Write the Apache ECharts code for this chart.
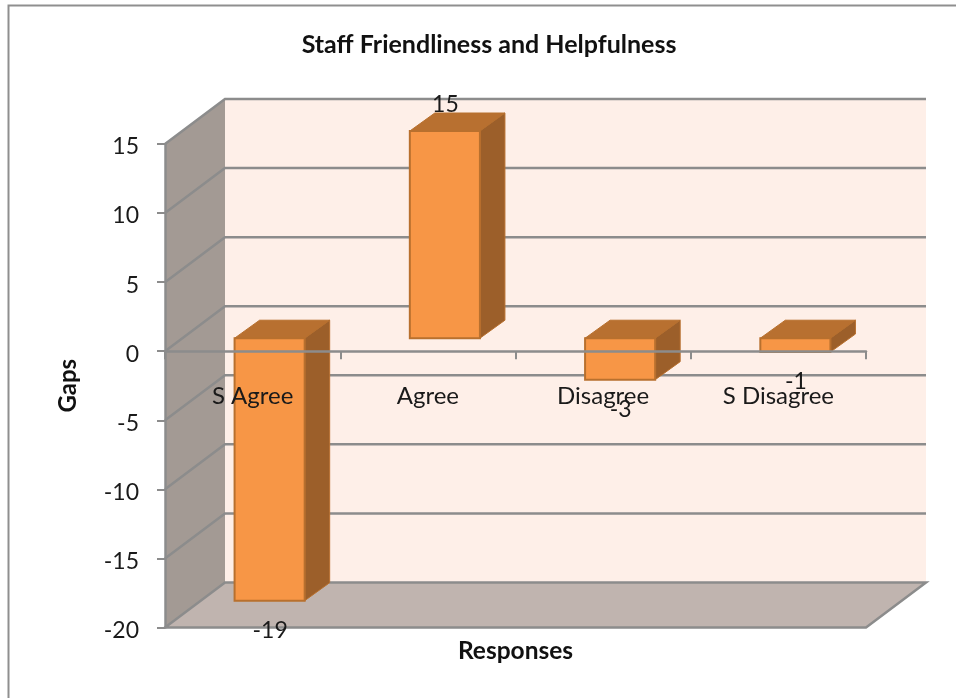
<!DOCTYPE html>
<html><head><meta charset="utf-8">
<style>html,body{margin:0;padding:0;background:#fff}#c{width:956px;height:698px}</style>
<script src="https://cdn.jsdelivr.net/npm/echarts@6/dist/echarts.min.js"></script>
</head><body><div id="c"></div>
<script>
const categories = ['S Agree', 'Agree', 'Disagree', 'S Disagree'];
const gaps = [-19, 15, -3, -1];
const yTicks = [-20, -15, -10, -5, 0, 5, 10, 15];
const titleText = 'Staff Friendliness and Helpfulness';
const yName = 'Gaps', xName = 'Responses';

// projection of the oblique 3D box
const WALL_DX = 60, WALL_DY = -45;
const BAR_OFF_DX = 17, BAR_OFF_DY = -13;
const BAR_DX = 25, BAR_DY = -18;
const BAR_WIDTH_RATIO = 0.4;
const LINE = '#8c8c8c';
const FONT = 'Lato, "Open Sans", sans-serif';

const chart = echarts.init(document.getElementById('c'), null, {renderer: 'canvas'});

function renderWalls(params, api) {
  const c = params.coordSys;
  const l = c.x, r = c.x + c.width, t = c.y, b = c.y + c.height;
  const poly = (pts, fill, stroke) => ({
    type: 'polygon', shape: {points: pts},
    style: {fill, stroke: stroke || null, lineWidth: stroke ? 2.5 : 0}
  });
  return {type: 'group', children: [
    poly([[l + WALL_DX, t + WALL_DY], [r + WALL_DX, t + WALL_DY], [r + WALL_DX, b + WALL_DY], [l + WALL_DX, b + WALL_DY]], '#FEEFE8'),
    poly([[l, t], [l + WALL_DX, t + WALL_DY], [l + WALL_DX, b + WALL_DY], [l, b]], '#A39A94'),
    poly([[l, b], [l + WALL_DX, b + WALL_DY], [r + WALL_DX, b + WALL_DY], [r, b]], '#C0B4AF', LINE)
  ]};
}

function renderGrid(params, api) {
  const c = params.coordSys;
  const y = api.coord([0, api.value(1)])[1];
  const l = c.x, r = c.x + c.width;
  return {type: 'polyline',
    shape: {points: [[l, y], [l + WALL_DX, y + WALL_DY], [r + WALL_DX, y + WALL_DY]]},
    style: {fill: null, stroke: LINE, lineWidth: 2.5}};
}

function renderBar(params, api) {
  const cx = api.coord([api.value(0), 0])[0] + BAR_OFF_DX;
  const y0 = api.coord([api.value(0), 0])[1] + BAR_OFF_DY;
  const y1 = api.coord([api.value(0), api.value(1)])[1] + BAR_OFF_DY;
  const w = api.size([1, 0])[0] * BAR_WIDTH_RATIO;
  const l = cx - w / 2, r = cx + w / 2;
  const top = Math.min(y0, y1), bot = Math.max(y0, y1);
  const edge = '#B8702E';
  return {type: 'group', children: [
    {type: 'polygon', shape: {points: [[l, top], [l + BAR_DX, top + BAR_DY], [r + BAR_DX, top + BAR_DY], [r, top]]},
      style: {fill: '#B87030', stroke: edge, lineWidth: 1}},
    {type: 'polygon', shape: {points: [[r, top], [r + BAR_DX, top + BAR_DY], [r + BAR_DX, bot + BAR_DY], [r, bot]]},
      style: {fill: '#9C5F2A', stroke: edge, lineWidth: 1}},
    {type: 'rect', shape: {x: l, y: top, width: w, height: bot - top},
      style: {fill: '#F79646', stroke: edge, lineWidth: 2}}
  ]};
}

function renderLabel(params, api) {
  const v = api.value(1);
  const p = api.coord([api.value(0), v]);
  return {type: 'text',
    x: p[0] + BAR_OFF_DX + 0.5,
    y: p[1] + BAR_OFF_DY + (v >= 0 ? -26 : 30),
    style: {text: String(v), font: '23px ' + FONT, fill: '#1a1a1a', align: 'center', verticalAlign: 'middle'}};
}

const barData = gaps.map((v, i) => [i, v]);

chart.setOption({
  animation: false,
  backgroundColor: '#fff',
  title: {text: titleText, left: 484, top: 27, textAlign: 'center',
    textStyle: {fontFamily: FONT, fontWeight: 'bold', fontSize: 25, color: '#111'}},
  graphic: [{type: 'polyline', silent: true, z: 0,
    shape: {points: [[8.5, 698], [8.5, 5.5], [956, 5.5]]},
    style: {fill: null, stroke: '#8f8f8f', lineWidth: 2}}],
  grid: {left: 165, right: 90, top: 144, bottom: 70.5, outerBoundsMode: 'none'},
  xAxis: {type: 'category', data: categories, z: 5,
    name: xName, nameLocation: 'middle', nameGap: 11,
    nameTextStyle: {fontFamily: FONT, fontWeight: 'bold', fontSize: 24.5, color: '#111'},
    axisLine: {onZero: true, lineStyle: {color: LINE, width: 2.5}},
    axisTick: {show: true, alignWithLabel: false, length: 8, lineStyle: {color: LINE, width: 2}},
    axisLabel: {margin: -243, fontFamily: FONT, fontSize: 24, color: '#1a1a1a', interval: 0},
    splitLine: {show: false}},
  yAxis: {type: 'value', min: -20, max: 15, interval: 5, z: 5,
    name: yName, nameLocation: 'middle', nameGap: 85, nameRotate: 90,
    nameTextStyle: {fontFamily: FONT, fontWeight: 'bold', fontSize: 24, color: '#111'},
    axisLine: {show: true, onZero: false, lineStyle: {color: LINE, width: 2.5}},
    axisTick: {show: true, length: 8, lineStyle: {color: LINE, width: 2}},
    axisLabel: {margin: 26, formatter: '{n|{value}}',
      rich: {n: {fontFamily: FONT, fontSize: 23, color: '#1a1a1a', padding: [6, 0, 0, 0]}}},
    splitLine: {show: false}},
  series: [
    {type: 'custom', z: 1, silent: true, clip: false, renderItem: renderWalls, data: [[0, 0]], encode: {x: 0, y: 1}},
    {type: 'custom', z: 2, silent: true, clip: false, renderItem: renderGrid,
      data: yTicks.filter(t => t > yTicks[0]).map(t => [0, t]), encode: {x: 0, y: 1}},
    {type: 'custom', z: 3, clip: false, renderItem: renderBar, data: barData, encode: {x: 0, y: 1}},
    {type: 'custom', z: 6, silent: true, clip: false, renderItem: renderLabel, data: barData, encode: {x: 0, y: 1}}
  ]
});
</script></body></html>
